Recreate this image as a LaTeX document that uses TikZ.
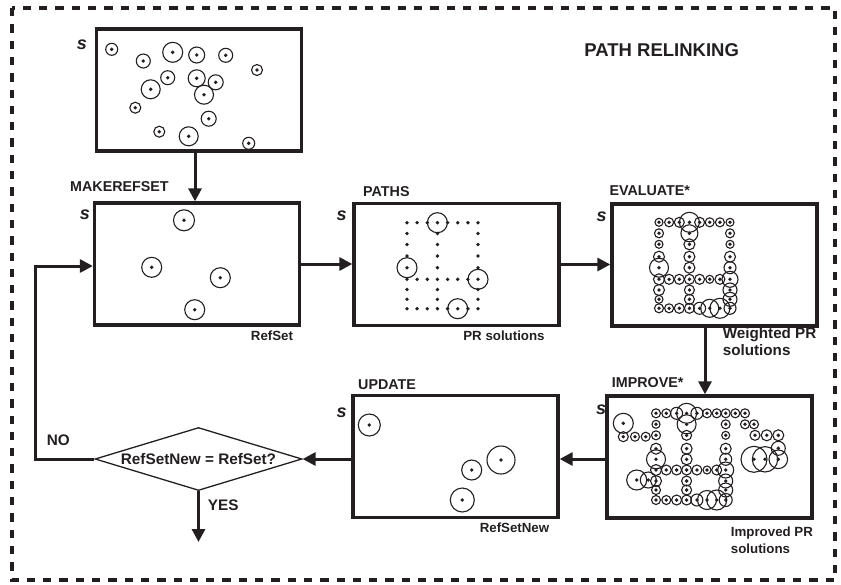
\documentclass[tikz,border=0pt]{standalone}
\usepackage{fontspec}
\setmainfont{Liberation Sans}
\usetikzlibrary{arrows.meta,shapes.geometric}
\definecolor{ink}{HTML}{231F20}
\newcommand\solc[3]{\draw[circst] (#1,#2) circle[radius=#3]; \fill[ink] (#1,#2) circle[radius=1.9];}
\begin{document}
\begin{tikzpicture}[x=1pt,y=-1pt,
  boxst/.style={draw=ink, line width=3.3pt, minimum width=205pt, minimum height=122pt, inner sep=0pt},
  arrst/.style={draw=ink, line width=3pt, -{Triangle[length=13pt,width=13pt]}},
  circst/.style={draw=ink, line width=1.1pt},
  slab/.style={font=\fontsize{18}{20}\selectfont\bfseries\itshape, text=ink, inner sep=0pt},
  headst/.style={font=\fontsize{14.3}{16}\selectfont\bfseries, text=ink, inner sep=0pt, anchor=west},
  smallst/.style={font=\fontsize{13.3}{16.7}\selectfont\bfseries, text=ink, inner sep=0pt},
  bigst/.style={font=\fontsize{15.3}{18}\selectfont\bfseries, text=ink, inner sep=0pt}]
\useasboundingbox (0,0) rectangle (841,584);
\draw[ink, line width=3.3pt, dash pattern=on 8.3pt off 8pt] (12,8) rectangle (835,580);

% title
\node[font=\fontsize{18.5}{22}\selectfont\bfseries, text=ink, inner sep=0pt] (title) at (661.7,50) {PATH RELINKING};

% s labels
\node[slab] (s1) at (82,45) {s};
\node[slab] (s2) at (85,215) {s};
\node[slab] (s3) at (341.7,216) {s};
\node[slab] (s4) at (601.7,216.7) {s};
\node[slab] (s5) at (601,410) {s};
\node[slab] (s6) at (341.7,412.7) {s};

% boxes
\node[boxst] (top) at (199,90) {};
\node[boxst] (mk) at (197,264) {};
\node[boxst] (paths) at (456.5,264.5) {};
\node[boxst] (eval) at (714.5,265) {};
\node[boxst] (impr) at (709.5,457) {};
\node[boxst] (upd) at (455.5,456.5) {};
\node[draw=ink, line width=1.3pt, diamond, aspect=3.27, minimum width=207pt, minimum height=63pt, inner sep=0pt, bigst] (dia) at (198.5,459) {RefSetNew = RefSet?};

% headings
\node[headst] (hmk) at (70,187) {MAKEREFSET};
\node[headst] (hpa) at (363,192) {PATHS};
\node[headst] (hev) at (609.3,191) {EVALUATE*};
\node[headst] (him) at (611.7,382.7) {IMPROVE*};
\node[headst] (hup) at (358,385) {UPDATE};

% bottom labels
\node[smallst] (lrs) at (272,336) {RefSet};
\node[smallst] (lpr) at (504,336) {PR solutions};
\node[bigst, anchor=west, align=left, font=\fontsize{15.2}{16.7}\selectfont\bfseries] (lwp) at (722.7,341.7) {Weighted PR\\solutions};
\node[smallst, anchor=west, align=left] (lip) at (730.7,540) {Improved PR\\solutions};
\node[smallst] (lrn) at (514.5,528) {RefSetNew};
\node[bigst] (lno) at (58.3,440.7) {NO};
\node[bigst] (lyes) at (223.3,505) {YES};

% connectors
\draw[arrst] ([xshift=-4pt]top.south) -- ([xshift=-4pt]top.south |- mk.north);
\draw[arrst] (mk.east) -- (mk.east -| paths.west);
\draw[arrst] (paths.east) -- (paths.east -| eval.west);
\draw[arrst] ([xshift=-9.5pt]eval.south) -- ([xshift=-9.5pt]eval.south |- impr.north);
\draw[arrst] (impr.west |- dia.east) -- (upd.east |- dia.east);
\draw[arrst] (upd.west |- dia.east) -- (dia.east);
\coordinate (lp) at (35,266);
\coordinate (yesend) at (198.5,542);
\draw[arrst] (dia.west) -| (lp) -- (lp -| mk.west);
\draw[arrst] (dia.south) -- (yesend);

% top box solutions
\foreach \x/\y/\r in {111.7/49.3/6, 143.3/61/7, 172.7/52.3/10, 196.7/55/8, 225.7/55.3/7, 257/70/5.5,
  167.7/77.7/7, 196.7/78.3/8.5, 215.7/82.3/7.5, 150.7/89.3/9.5, 204/94.7/9.5, 135.3/107.7/5.5,
  208.7/118.7/7.5, 159.3/131.7/5.5, 188.7/136.3/9.5, 248.7/143.3/6}
  {\solc{\x}{\y}{\r}}

% refset
\foreach \x/\y/\r in {184/220.3/10.5, 151.7/267.3/10, 220.3/277.7/10, 194.7/309.7/10}
  {\solc{\x}{\y}{\r}}

% paths
\foreach \x in {407,417.1,427.3,437.4,447.6,457.7,467.9,478}
  \foreach \y in {222.7,279.3,308.7}
    {\fill[ink] (\x,\y) circle[radius=1.9];}
\foreach \x in {407,437.4,478}
  \foreach \y in {233.5,244.5,256,267.7,289.5,299.3}
    {\fill[ink] (\x,\y) circle[radius=1.9];}
\foreach \x/\y in {437.4/222.7, 407/267.7, 478/279.3, 457.7/308.7}
  {\draw[circst] (\x,\y) circle[radius=10];}

% evaluate
\foreach \x/\y/\r in {
  659/222.3/4, 669.1/222.3/4.5, 679.3/222.3/5, 689.4/222.3/10, 699.6/222.3/5, 709.7/222.3/4.5, 719.9/222.3/4.5, 730/222.3/4,
  659/233.3/4.5, 689.4/233.3/8.5, 730/233.3/4.5,
  659/244.3/4, 689.4/244.3/5.5, 730/244.3/4,
  659/256.7/5.5, 689.4/256.7/5.5, 730/256.7/5.5,
  659/267.7/9.5, 689.4/267.7/5.5, 730/267.7/6,
  659/279.3/5.5, 669.1/279.3/5, 679.3/279.3/5, 689.4/279.3/5, 699.6/279.3/5, 709.7/279.3/4, 719.9/279.3/5, 730/279.3/8,
  659/290/5.5, 689.4/290/5, 730/290/7,
  659/299.3/4, 689.4/299.3/5, 730/299.3/7,
  659/308.3/4.5, 669.1/308.3/4.5, 679.3/308.3/5, 689.4/308.3/5, 699.6/308.3/6, 709.7/308.3/9, 719.9/308.3/10, 730/308.3/6}
  {\solc{\x}{\y}{\r}}

% improve
\foreach \x/\y/\r in {
  656/413.3/4.5, 666.3/413.3/4.5, 676.6/413.3/6, 686.6/413.3/10, 696.9/413.3/6, 707/413.3/4.5, 716.7/413.3/4.5, 725.7/413.3/4.5, 735.3/413.3/4.5, 745/413.3/4.5,
  656/424.3/4, 686.6/424.3/9.5, 725.7/424.3/4.5, 745/424.3/4.5, 754/424.3/4.5,
  656/435.3/4.5, 686.6/435.3/5, 725.7/435.3/4, 623.3/436.7/5, 635/436.7/4.5, 645.7/436.7/4.5, 623.3/423.3/10, 755/435.3/5, 766.7/435.3/5.5, 778.3/435.3/5.5,
  656/448.7/5.5, 686.6/448.7/5.5, 725.7/448.7/5.5, 778.3/448.3/7,
  656/459.3/9.5, 686.6/459.3/5.5, 725.7/459.3/6, 754/459.3/13, 765/459.3/12.7, 778.3/459.3/9.3,
  656/470/5.5, 666.3/470/5, 676.6/470/5, 686.6/470/5, 696.9/470/5, 707/470/4, 716.7/470/5, 725.7/470/8,
  656/481/5.5, 686.6/481/5, 725.7/481/7, 636.7/480/10, 648.3/480/8,
  656/490/4.5, 686.6/490/5, 725.7/490/7,
  656/500/4.5, 666.3/500/4.5, 676.6/500/5, 686.6/500/5, 696.9/500/6, 707/500/9.5, 716.7/500/10, 725.7/500/6.5}
  {\solc{\x}{\y}{\r}}

% update
\foreach \x/\y/\r in {369.3/425/11, 501/460/14, 471.7/470/10, 462.3/500/12}
  {\solc{\x}{\y}{\r}}
\end{tikzpicture}
\end{document}
